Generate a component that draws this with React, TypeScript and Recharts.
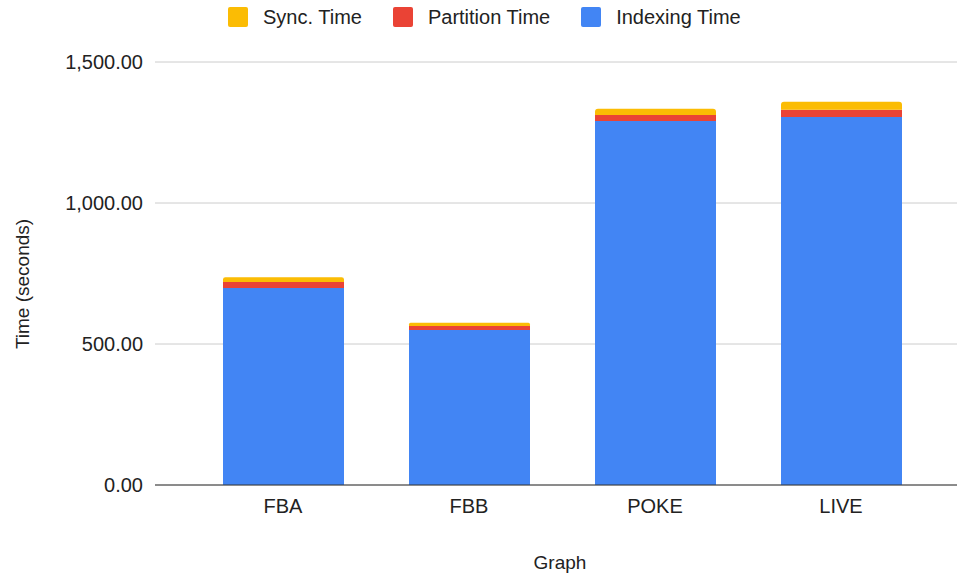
import { Bar, BarChart, CartesianGrid, XAxis, YAxis } from "recharts";

const graphs = ["FBA", "FBB", "POKE", "LIVE"];
const indexingTime = [699, 550, 1291, 1305];
const partitionTime = [21, 14, 21, 26];
const syncTime = [17, 11, 22, 28];
const yTicks = [0, 500, 1000, 1500];

const SERIES = [
  { key: "sync", name: "Sync. Time", color: "#fbbc04" },
  { key: "partition", name: "Partition Time", color: "#ea4335" },
  { key: "indexing", name: "Indexing Time", color: "#4285f4" },
];

const data = graphs.map((g, i) => ({
  graph: g,
  indexing: indexingTime[i],
  partition: partitionTime[i],
  sync: syncTime[i],
}));

const FONT = "Arial, 'Liberation Sans', sans-serif";

const formatTick = (v: number) =>
  v.toLocaleString("en-US", { minimumFractionDigits: 2, maximumFractionDigits: 2 });

export default function App() {
  return (
    <div
      style={{
        position: "absolute",
        left: 0,
        top: 0,
        width: 957,
        height: 573,
        background: "#fff",
        fontFamily: FONT,
      }}
    >
      <div
        style={{
          position: "absolute",
          top: 7,
          left: 228,
          display: "flex",
          alignItems: "center",
          fontSize: 20,
          color: "#222",
          lineHeight: "20px",
        }}
      >
        {SERIES.map((s) => (
          <div key={s.key} style={{ display: "flex", alignItems: "center", marginRight: 31 }}>
            <span
              style={{
                display: "inline-block",
                width: 20,
                height: 20,
                borderRadius: 2,
                background: s.color,
                marginRight: 15,
              }}
            />
            <span>{s.name}</span>
          </div>
        ))}
      </div>
      <BarChart
        width={957}
        height={573}
        data={data}
        margin={{ top: 62, right: 0, bottom: 58, left: 0 }}
        barCategoryGap={0}
      >
        <CartesianGrid vertical={false} stroke="#cccccc" />
        <XAxis
          dataKey="graph"
          height={30}
          padding={{ left: 35, right: 23 }}
          axisLine={{ stroke: "#333333" }}
          tickLine={false}
          tickSize={0}
          tickMargin={14}
          tick={{ fill: "#222", fontSize: 20, fontFamily: FONT }}
          label={{
            content: () => (
              <text x={560} y={562} textAnchor="middle" dominantBaseline="central" fill="#222" fontSize={19} fontFamily={FONT}>
                Graph
              </text>
            ),
          }}
        />
        <YAxis
          width={155}
          domain={[0, 1500]}
          ticks={yTicks}
          axisLine={false}
          tickLine={false}
          tickSize={0}
          tickMargin={12}
          tickFormatter={(v) => formatTick(Number(v))}
          tick={{ fill: "#222", fontSize: 20, fontFamily: FONT }}
          label={{
            content: () => (
              <text
                x={22}
                y={284}
                transform="rotate(-90 22 284)"
                textAnchor="middle"
                dominantBaseline="central"
                fill="#222"
                fontSize={19}
                fontFamily={FONT}
              >
                Time (seconds)
              </text>
            ),
          }}
        />
        <Bar dataKey="indexing" name="Indexing Time" stackId="a" fill="#4285f4" barSize={121} isAnimationActive={false} />
        <Bar dataKey="partition" name="Partition Time" stackId="a" fill="#ea4335" barSize={121} isAnimationActive={false} />
        <Bar dataKey="sync" name="Sync. Time" stackId="a" fill="#fbbc04" barSize={121} radius={[3, 3, 0, 0]} isAnimationActive={false} />
      </BarChart>
    </div>
  );
}
